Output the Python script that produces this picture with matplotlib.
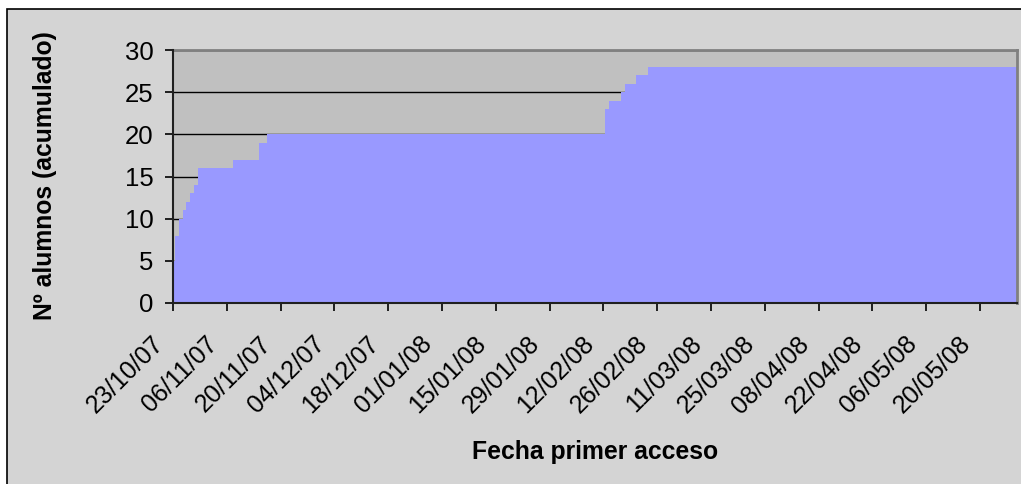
import datetime as dt
import pandas as pd
import matplotlib
matplotlib.use("Agg")
import matplotlib.pyplot as plt
import matplotlib.dates as mdates
from matplotlib.patches import Rectangle
from matplotlib.transforms import ScaledTranslation

plt.rcParams['font.family'] = ['Liberation Sans', 'DejaVu Sans']

# cumulative number of students on each day the count changed
change_dates = ["2007-10-23", "2007-10-24", "2007-10-25", "2007-10-26", "2007-10-27",
                "2007-10-28", "2007-10-29", "2007-10-30", "2007-11-08", "2007-11-15",
                "2007-11-17", "2008-02-13", "2008-02-14", "2008-02-17", "2008-02-18",
                "2008-02-21", "2008-02-24", "2008-05-30"]
students = [5, 8, 10, 11, 12, 13, 14, 16, 17, 19, 20, 23, 24, 25, 26, 27, 28, 28]

first_day = dt.datetime(2007, 10, 23)
last_day = dt.datetime(2008, 5, 30)
tick_dates = pd.date_range(first_day, last_day, freq="14D")

dates = pd.to_datetime(change_dates)
# each day's value occupies a slot centred on that day
x = list(dates - pd.Timedelta(hours=12)) + [last_day + pd.Timedelta(hours=12)]
y = students + [students[-1]]

fig = plt.figure(figsize=(10.21, 4.84), dpi=100, facecolor="white")
fig.patches.append(Rectangle((7 / 1021, -0.1), 1.1, 1.1 - 9 / 484, transform=fig.transFigure,
                             facecolor="#d4d4d4", edgecolor="black", linewidth=1.2, zorder=-1))

ax = fig.add_axes([173 / 1021, 1 - 303 / 484, (1017 - 173) / 1021, (303 - 50) / 484])
ax.set_facecolor("#c0c0c0")

ax.fill_between(x, y, step="post", color="#9999ff", linewidth=0, zorder=2)

ax.set_ylim(0, 30)
ax.set_yticks(range(0, 31, 5))
ax.set_xlim(first_day, first_day + dt.timedelta(days=219.6))
ax.set_xticks(tick_dates)
ax.xaxis.set_major_formatter(mdates.DateFormatter("%d/%m/%y"))
ax.grid(axis="y", color="black", linewidth=1, zorder=1)
ax.set_axisbelow(True)

ax.tick_params(axis="both", direction="out", length=6, width=1.2, labelsize=18.5, colors="black")
ax.tick_params(axis="x", labelsize=18)
ax.tick_params(axis="y", pad=8)
ax.tick_params(axis="x", pad=4)

shift = ScaledTranslation(-22 / 100, -15 / 100, fig.dpi_scale_trans)
for lbl in ax.get_xticklabels():
    lbl.set_rotation(45)
    lbl.set_ha("right")
    lbl.set_va("top")
    lbl.set_rotation_mode("anchor")
    lbl.set_transform(lbl.get_transform() + shift)

for side in ["top", "right"]:
    ax.spines[side].set_color("#808080")
    ax.spines[side].set_linewidth(2)
for side in ["left", "bottom"]:
    ax.spines[side].set_color("#202020")
    ax.spines[side].set_linewidth(1.5)
    ax.spines[side].set_zorder(3)

ax.set_xlabel("Fecha primer acceso", fontsize=17.8, fontweight="bold")
ax.set_ylabel("Nº alumnos (acumulado)", fontsize=17.8, fontweight="bold")
ax.yaxis.set_label_coords(-0.137, 0.502)
ax.xaxis.set_label_coords(0.5, -0.543)

fig.savefig("out.png", dpi=100, facecolor="white")
